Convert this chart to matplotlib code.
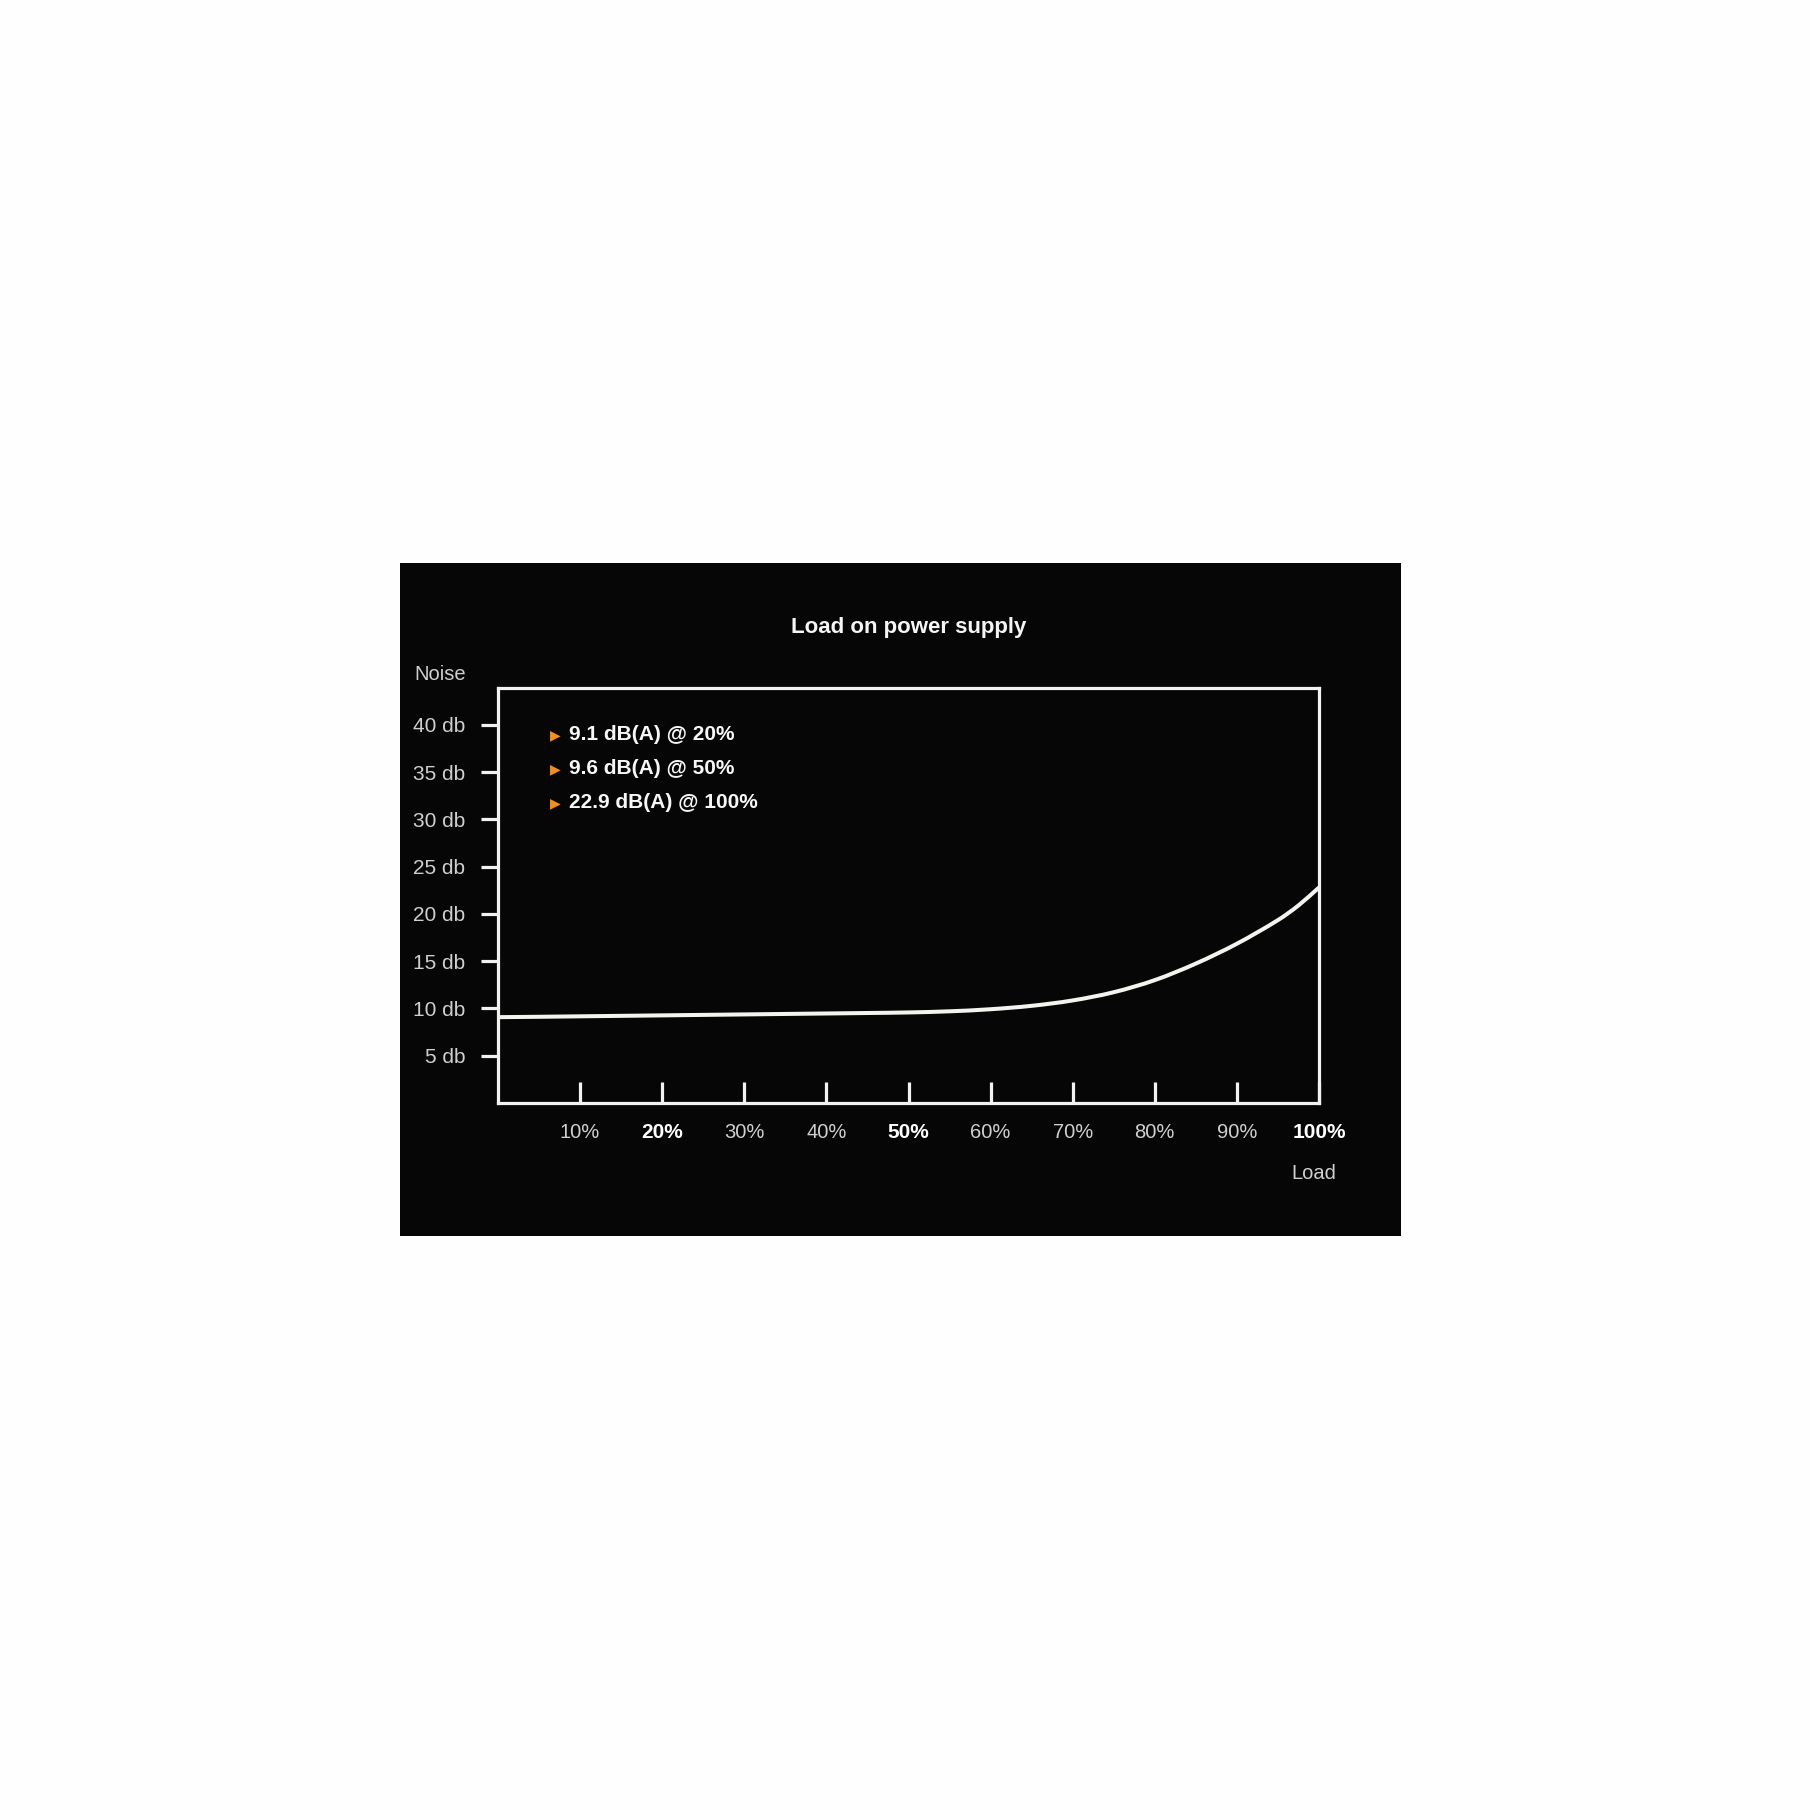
import matplotlib
matplotlib.use("Agg")
import matplotlib.pyplot as plt
from matplotlib.patches import Rectangle, PathPatch
from matplotlib.path import Path

plt.rcParams['font.family'] = ['Liberation Sans', 'DejaVu Sans']

# ---- data ----
load_pct = [0, 5, 10, 15, 20, 25, 30, 35, 40, 45, 50, 55, 60, 65, 70, 75, 80, 85, 90, 95, 97.5, 100]
noise_db = [9.08, 9.12, 9.17, 9.22, 9.27, 9.32, 9.37, 9.42, 9.47, 9.52, 9.58, 9.7, 9.92, 10.28,
            10.85, 11.72, 13.0, 14.75, 16.85, 19.35, 20.9, 22.8]
x_ticks = [10, 20, 30, 40, 50, 60, 70, 80, 90, 100]
x_tick_labels = ['10%', '20%', '30%', '40%', '50%', '60%', '70%', '80%', '90%', '100%']
x_bold = ['20%', '50%', '100%']
y_ticks = [5, 10, 15, 20, 25, 30, 35, 40]
y_tick_labels = ['5 db', '10 db', '15 db', '20 db', '25 db', '30 db', '35 db', '40 db']
notes = ['9.1 dB(A) @ 20%', '9.6 dB(A) @ 50%', '22.9 dB(A) @ 100%']
title = 'Load on power supply'
y_label = 'Noise'
x_label = 'Load'

W = H = 1810
fig = plt.figure(figsize=(W / 100, H / 100), dpi=100, facecolor='#fefefe')

# black panel
fig.patches.append(Rectangle((400 / W, 1 - 1236 / H), (1401 - 400) / W, (1236 - 563) / H,
                             transform=fig.transFigure, facecolor='#060607',
                             edgecolor='none', zorder=-10))

ax = fig.add_axes([498 / W, 1 - 1103 / H, (1319 - 498) / W, (1103 - 688) / H])
ax.set_facecolor('#060607')
ax.set_xlim(0, 100)
ax.set_ylim(0, 43.9)

for s in ax.spines.values():
    s.set_color('#f2f2f2')
    s.set_linewidth(2.3)

# smooth curve through the read points (cubic Hermite as Bezier)
pts = list(zip(load_pct, noise_db))
verts = [pts[0]]
codes = [Path.MOVETO]
n = len(pts)
for i in range(n - 1):
    p0 = pts[i - 1] if i > 0 else pts[i]
    p1 = pts[i]
    p2 = pts[i + 1]
    p3 = pts[i + 2] if i + 2 < n else pts[i + 1]
    h = p2[0] - p1[0]
    t1 = (p2[1] - p0[1]) / (p2[0] - p0[0]) if p2[0] != p0[0] else 0
    t2 = (p3[1] - p1[1]) / (p3[0] - p1[0]) if p3[0] != p1[0] else 0
    c1 = (p1[0] + h / 3, p1[1] + t1 * h / 3)
    c2 = (p2[0] - h / 3, p2[1] - t2 * h / 3)
    verts += [c1, c2, p2]
    codes += [Path.CURVE4] * 3
ax.add_patch(PathPatch(Path(verts, codes), facecolor='none', edgecolor='#f4f3ee',
                       lw=2.9, capstyle='butt', zorder=3, clip_on=True))

ax.set_xticks(x_ticks)
ax.set_xticklabels(x_tick_labels)
ax.set_yticks(y_ticks)
ax.set_yticklabels(y_tick_labels)
ax.tick_params(axis='x', direction='in', length=15, width=2.3, color='#f2f2f2', pad=14.5,
               labelsize=14.5, labelcolor='#cfcfcf')
ax.tick_params(axis='y', direction='out', length=12, width=2.3, color='#f2f2f2', pad=11.5,
               labelsize=15, labelcolor='#cfcfcf')
for lbl in ax.get_xticklabels():
    if lbl.get_text() in x_bold:
        lbl.set_fontweight('bold')
        lbl.set_color('#ffffff')
        lbl.set_fontsize(15)

# title and axis names
fig.text((498 + 1319) / 2 / W, 1 - 628 / H, title, ha='center', va='center',
         fontsize=16, fontweight='bold', color='#f5f5f5')
fig.text(414 / W, 1 - 675 / H, y_label, ha='left', va='center', fontsize=14.5, color='#cfcfcf')
fig.text(1314 / W, 1 - 1173 / H, x_label, ha='center', va='center', fontsize=14.5, color='#cfcfcf')

# bullet notes
for i, note in enumerate(notes):
    yy = 1 - (735 + i * 34 - 688) / (1103 - 688)
    ax.text((555 - 498) / (1319 - 498), yy, '\u25B6', transform=ax.transAxes, ha='center',
            va='center', fontsize=10, color='#f0901e', family='DejaVu Sans')
    ax.text((569 - 498) / (1319 - 498), yy, note, transform=ax.transAxes, ha='left',
            va='center', fontsize=15, fontweight='bold', color='#f7f7f7')

fig.savefig('out.png', dpi=100, facecolor=fig.get_facecolor())
